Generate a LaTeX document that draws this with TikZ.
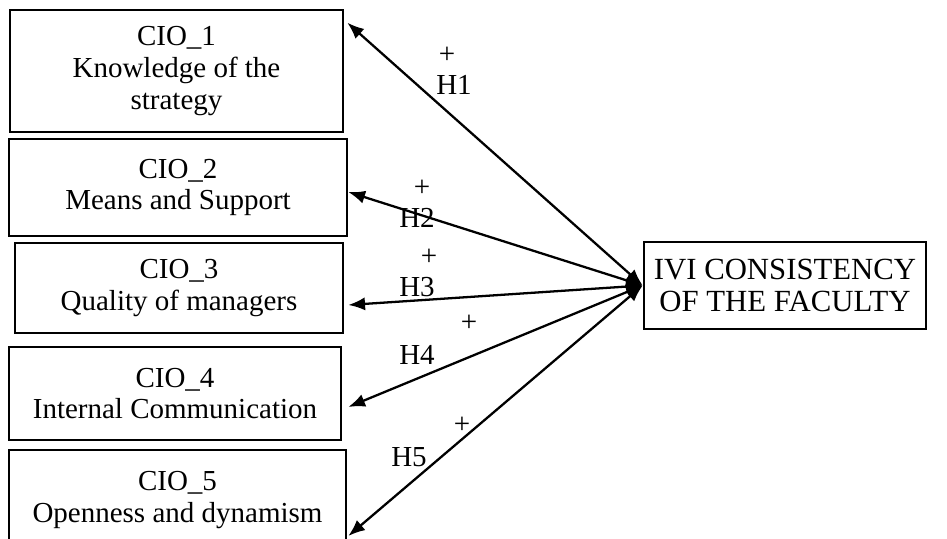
\documentclass[tikz,border=0pt]{standalone}
\usepackage{fontspec}
\setmainfont{Liberation Serif}
\usepackage{tikz}
\usetikzlibrary{arrows.meta,positioning}

\begin{document}
\begin{tikzpicture}[>={Latex[length=9.5pt,width=7.5pt]},thick]
\tikzstyle{box}=[draw, line width=1.5pt, align=center, inner sep=0pt, font=\fontsize{16.5}{18}\selectfont]
\tikzstyle{hyp}=[inner sep=0pt, font=\fontsize{16.5}{18}\selectfont]
\useasboundingbox (0,0) rectangle (18.94,10.78);
\node[box, minimum width=6.66cm, minimum height=2.44cm] (cio1) at (3.53,9.36) {CIO\_1\\Knowledge of the\\strategy};
\node[box, minimum width=6.76cm, minimum height=1.94cm] (cio2) at (3.56,7.03) {CIO\_2\\Means and Support};
\node[box, minimum width=6.56cm, minimum height=1.80cm] (cio3) at (3.58,5.02) {CIO\_3\\Quality of managers};
\node[box, minimum width=6.64cm, minimum height=1.86cm] (cio4) at (3.50,2.91) {CIO\_4\\Internal Communication};
\node[box, minimum width=6.74cm, minimum height=2.00cm] (cio5) at (3.55,0.78) {CIO\_5\\Openness and dynamism};
\node[box, minimum width=5.64cm, minimum height=1.74cm, font=\fontsize{17.5}{18}\selectfont] (ivi) at (15.70,5.07) {IVI CONSISTENCY\\OF THE FACULTY};
% hypotheses
\draw[<->, line width=1.3pt] ([shift={(0.06,-0.28)}]cio1.north east) -- (ivi.west);
\draw[<->, line width=1.3pt] ([shift={(0,-0.09)}]cio2.east) -- (ivi.west);
\draw[<->, line width=1.3pt] ([shift={(0.08,-0.34)}]cio3.east) -- (ivi.west);
\draw[<->, line width=1.3pt] ([shift={(0.12,-0.27)}]cio4.east) -- (ivi.west);
\draw[<->, line width=1.3pt] ([shift={(0.02,-0.72)}]cio5.east) -- (ivi.west);
\node[hyp] (plus1) at (8.94,9.68) {+};
\node[hyp] (h1) at (9.08,9.08) {H1};
\node[hyp] (plus2) at (8.44,7.02) {+};
\node[hyp] (h2) at (8.34,6.42) {H2};
\node[hyp] (plus3) at (8.58,5.64) {+};
\node[hyp] (h3) at (8.34,5.04) {H3};
\node[hyp] (plus4) at (9.38,4.32) {+};
\node[hyp] (h4) at (8.34,3.68) {H4};
\node[hyp] (plus5) at (9.24,2.28) {+};
\node[hyp] (h5) at (8.18,1.64) {H5};
\end{tikzpicture}
\end{document}
